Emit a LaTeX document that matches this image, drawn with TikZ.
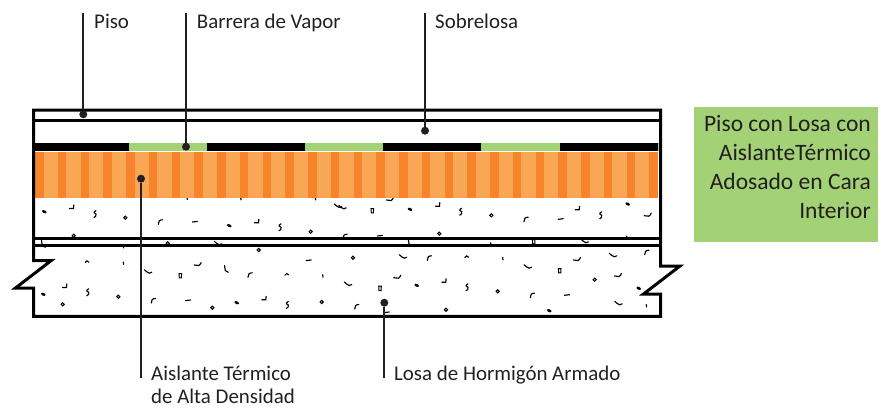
\documentclass[tikz,border=0pt]{standalone}
\usepackage{fontspec}
\setmainfont{Carlito}
\definecolor{gr}{HTML}{A3D176}
\definecolor{orL}{HTML}{F9A655}
\definecolor{orD}{HTML}{F7842A}
\definecolor{ink}{HTML}{231F20}
\tikzset{
  x=1pt,y=-1pt,
  wall/.style={draw=black,line width=3pt,miter limit=10},
  leader/.style={draw=ink,line width=1.7pt},
  dotn/.style={circle,fill=ink,inner sep=0pt,minimum size=8pt},
  lab/.style={anchor=base west,inner sep=0pt,text=ink,font=\fontsize{20.9}{21}\selectfont},
  boxt/.style={anchor=base east,inner sep=0pt,text=ink,font=\fontsize{23.5}{24}\selectfont},
  mk/.style={draw=black,line width=1.15pt,line cap=round},
  mo/.pic={\draw[mk,line width=1pt] (0,0) circle (1.6pt);},
  mD/.pic={\draw[mk,line width=1pt] (-1.3,-2.2) -- (1.3,-2.2) -- (1.1,2.2) -- (-1,2.2) -- cycle;},
  mb/.pic={\fill[black,rotate=-25] (0,0) ellipse (2.4pt and 1.4pt);},
  mh/.pic={\draw[mk] (-2.5,1.5) -- (1.5,1.5) -- (1.8,-2);},
  ms/.pic={\draw[mk] (1,-3.5) .. controls (-2,-2) and (-1,-0.5) .. (1,0) .. controls (2,1.5) and (0,3) .. (-1,3.5);},
  mc/.pic={\draw[mk] (-2,3) .. controls (-2,0) and (-1,-1.5) .. (2.2,-1.5);},
  md/.pic={\draw[mk] (-2.5,0.3) -- (2.5,-0.3);},
  mw/.pic={\draw[mk] (-4,-2) .. controls (-2,-1) and (-1,1.5) .. (1,1.5) -- (3.5,0.5);},
  mv/.pic={\draw[mk] (-3.5,1) -- (1,1.5) .. controls (2,1) and (3,0) .. (3.5,-1.5);},
  mV/.pic={\draw[mk] (-1.8,-3.5) -- (-1,1.5) -- (2,3.3);},
  mt/.pic={\draw[mk] (0,-1.2) -- (0.3,1.2);},
  mk2/.pic={\draw[mk] (-1.8,0.8) -- (0,-0.8) -- (1.8,0.5);},
}
\begin{document}
\begin{tikzpicture}
\useasboundingbox (0,0) rectangle (881,408);
% aggregate marks
\foreach \a/\b in {125.3/217.7,310.7/231.7,73.7/235.7,167.7/243.3,258.7/250,62.7/304.3,118.3/296.7,212.3/307.7,321.7/302,491.3/215.3,439.3/233.7,353/257.7,594.7/279.7,497.7/291.3,446/309.7} \pic at (\a,\b) {mo};
\foreach \a/\b in {180.3/275.7,372.3/210.7,533.7/241.7,559.7/270.7,380/288.3} \pic at (\a,\b) {mD};
\foreach \a/\b in {44.3/211.7,229.3/225.7,43.3/294.3,236.7/302.7,410/209.3,627.7/204,638.7/288.3,416.7/285.3,549.3/310.7} \pic at (\a,\b) {mb};
\foreach \a/\b in {72/207,257/221.3,65/286,264.3/298.3,438/204.7,577.7/208.3,444.3/280.7} \pic at (\a,\b) {mh};
\foreach \a/\b in {95/214,280/227.3,87.7/292.3,287.3/305,460.7/211.7,600.7/215.3,467/287.3} \pic at (\a,\b) {ms};
\foreach \a/\b in {160.3/221.3,250/274.3,153.3/300,526/218.7,345/235.7,429.3/257.3,646.7/251.7,532.3/294.7,356.7/306} \pic at (\a,\b) {mc};
\foreach \a/\b in {195/221.7,308.7/260.3,188/300.3,560.7/219,380/235.7,567/295,386.7/312.3} \pic at (\a,\b) {md};
\foreach \a/\b in {338.3/206,342.7/207.3,218.3/243.3,148.3/271.7,585/241.3,403.3/256.7,528/266.7,613.3/255.3,348.3/284,618.7/303.3} \pic at (\a,\b) {mw};
\foreach \a/\b in {390/199,197.7/264,647.7/214.7,577/259,618/275,397.3/276.7} \pic at (\a,\b) {mv};
\foreach \a/\b in {226.3/269,410/242.3,43.3/244} \pic at (\a,\b) {mV};
\foreach \a/\b in {187/198.3,240.7/198.7,315.3/198.7,123.3/246.7,123.3/263.3,322.7/276,490.7/244,626.7/237.3,502.7/258.7,646.3/305.7} \pic at (\a,\b) {mt};
\foreach \a/\b in {87/261.7,286.7/274.3,466.7/256.7} \pic at (\a,\b) {mk2};
% insulation
\fill[orL] (35,152) rectangle (658,197.5);
\foreach \i in {0,...,27} \fill[orD] ({35+22.75*\i},152) rectangle ({43.5+22.75*\i},197.5);
% vapour barrier and black bars
\fill[gr] (35,142.7) rectangle (659,151.3);
\fill[black] (35,142.7) rectangle (129,151.3);
\fill[black] (207,142.7) rectangle (305,151.3);
\fill[black] (383,142.7) rectangle (481,151.3);
\fill[black] (560,142.7) rectangle (658,151.3);
% structure
\draw[wall] (33.5,260.7) -- (33.5,110) -- (660.7,110) -- (660.7,266) -- (680,266) -- (643.5,294) -- (660.7,294) -- (660.7,316.3) -- (33.5,316.3) -- (33.5,288) -- (15.5,288) -- (51,260.7) -- cycle;
\draw[black,line width=3.5pt] (35,120.7) -- (659,120.7);
\draw[black,line width=3pt] (35,238.3) -- (659,238.3);
\draw[black,line width=3pt] (35,245.3) -- (659,245.3);
% side box
\fill[gr] (694,106.7) rectangle (878,242);
\node[boxt] (t1) at (871,131.7) {Piso con Losa con};
\node[boxt] (t2) at (871,160.7) {AislanteTérmico};
\node[boxt] (t3) at (871,189.5) {Adosado en Cara};
\node[boxt] (t4) at (871,218.3) {Interior};
% labels and leaders
\node[lab] (lp) at (94,28.5) {Piso};
\node[lab] (lb) at (196.7,28.5) {Barrera de Vapor};
\node[lab] (ls) at (435,28.5) {Sobrelosa};
\node[lab] (la) at (151,380.5) {Aislante Térmico};
\node[lab] (la2) at (151,403.5) {de Alta Densidad};
\node[lab] (lo) at (394,380.5) {Losa de Hormigón Armado};
\node[dotn] (dp) at (83.3,114.3) {};
\node[dotn] (db) at (186,146.7) {};
\node[dotn] (ds) at (425,130.7) {};
\node[dotn] (da) at (141,178.7) {};
\node[dotn] (do) at (384.3,302.7) {};
\coordinate (cp) at (83.3,13);
\coordinate (cb) at (186,13);
\coordinate (cs) at (425,13);
\coordinate (ca) at (141,378);
\coordinate (co) at (384.3,378);
\draw[leader] (cp) -- (dp);
\draw[leader] (cb) -- (db);
\draw[leader] (cs) -- (ds);
\draw[leader] (ca) -- (da);
\draw[leader] (co) -- (do);
\end{tikzpicture}
\end{document}
